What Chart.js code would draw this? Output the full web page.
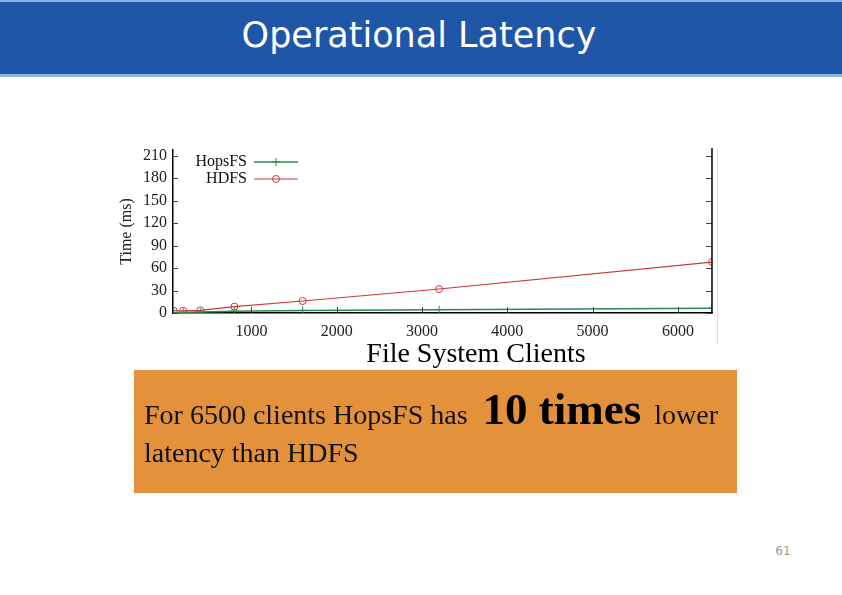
<!DOCTYPE html>
<html>
<head>
<meta charset="utf-8">
<script src="https://cdn.jsdelivr.net/npm/chart.js@4.4.1/dist/chart.umd.min.js"></script>
<style>
  html, body { margin:0; padding:0; background:#fff; }
  body { width:842px; height:595px; position:relative; overflow:hidden; }
  #header { position:absolute; left:0; top:0; width:842px; height:72px; background:#1F56A8;
            border-top:2px solid #8DB3E2; border-bottom:3px solid #8DB3E2; }
  #title { position:absolute; left:0; width:838px; top:12px; text-align:center; color:#fff;
           font-family:"DejaVu Sans", sans-serif; font-size:35px; line-height:42px; }
  #chartWrap { position:absolute; left:110px; top:140px; width:610px; height:205px; }
  #edge { position:absolute; left:717px; top:148px; width:1px; height:197px; background:#ddd; }
  #xtitle { position:absolute; left:276px; width:400px; top:336px; text-align:center;
            font-family:"Liberation Serif", serif; font-size:28px; line-height:34px; color:#000; }
  #box { position:absolute; left:134px; top:370px; width:603px; height:123px; background:#E3913A; }
  #l1 { position:absolute; left:10px; top:15px; white-space:nowrap; font-family:"Liberation Serif", serif;
        font-size:28px; line-height:48px; color:#111; }
  #l1 b { font-size:45px; margin:0 13px 0 15px; color:#000; }
  #l2 { position:absolute; left:10px; top:66px; white-space:nowrap; font-family:"Liberation Serif", serif;
        font-size:28px; line-height:34px; color:#111; }
  #page { position:absolute; left:770px; top:544px; width:26px; text-align:center; font-family:"DejaVu Sans", sans-serif;
          font-size:12px; color:#999; }
</style>
</head>
<body>
<div id="header"><div id="title">Operational Latency</div></div>
<div id="chartWrap"><canvas id="c" width="610" height="205"></canvas></div>
<div id="edge"></div>
<div id="xtitle">File System Clients</div>
<div id="box">
  <div id="l1">For 6500 clients HopsFS has<b>10 times</b>lower</div>
  <div id="l2">latency than HDFS</div>
</div>
<div id="page">61</div>
<script>
// ---- data ----
const clients = [90, 200, 400, 800, 1600, 3200, 6400];
const hopsfsMs = [0.5, 1, 1.5, 2.5, 3.5, 4.5, 6.5];
const hdfsMs   = [3, 3, 3.5, 8.5, 16, 32, 68];
const xTickValues = [1000, 2000, 3000, 4000, 5000, 6000];
const yTickValues = [0, 30, 60, 90, 120, 150, 180, 210];
const seriesNames = ['HopsFS', 'HDFS'];
const yAxisTitle = 'Time (ms)';

const GREEN = '#2A8A52';
const RED = '#C93A3A';
const SERIF = '"Liberation Serif", "Times New Roman", serif';

const toPoints = (xs, ys) => xs.map((x, i) => ({x, y: ys[i]}));

const decor = {
  id: 'decor',
  afterDatasetsDraw(chart) {
    const {ctx, chartArea: a, scales: {x, y}} = chart;
    ctx.save();
    // inward ticks
    ctx.strokeStyle = '#444';
    ctx.lineWidth = 1;
    ctx.beginPath();
    y.ticks.forEach(t => {
      const py = Math.round(y.getPixelForValue(t.value)) + 0.5;
      ctx.moveTo(a.left, py); ctx.lineTo(a.left + 5, py);
      ctx.moveTo(a.right, py); ctx.lineTo(a.right - 6, py);
    });
    x.ticks.forEach(t => {
      const px = Math.round(x.getPixelForValue(t.value)) + 0.5;
      ctx.moveTo(px, a.bottom); ctx.lineTo(px, a.bottom - 6);
    });
    ctx.stroke();
    // right frame line
    ctx.strokeStyle = '#000';
    ctx.lineWidth = 1.5;
    ctx.beginPath();
    ctx.moveTo(a.right, a.top - 2); ctx.lineTo(a.right, a.bottom);
    ctx.stroke();

    // legend (text then sample)
    const ds = chart.data.datasets;
    ctx.font = '16px ' + SERIF;
    ctx.textAlign = 'right';
    ctx.textBaseline = 'middle';
    ds.forEach((d, i) => {
      const ty = a.top + 12 + i * 17;
      const tx = a.left + 74;
      ctx.fillStyle = '#111';
      ctx.fillText(d.label, tx, ty);
      const x0 = tx + 7, x1 = tx + 51, xm = (x0 + x1) / 2;
      ctx.strokeStyle = d.borderColor;
      ctx.lineWidth = d.borderWidth;
      ctx.beginPath(); ctx.moveTo(x0, ty); ctx.lineTo(x1, ty); ctx.stroke();
      ctx.lineWidth = 1;
      ctx.beginPath();
      if (d.pointStyle === 'cross') {
        ctx.moveTo(xm - 4, ty); ctx.lineTo(xm + 4, ty);
        ctx.moveTo(xm, ty - 4); ctx.lineTo(xm, ty + 4);
      } else {
        ctx.arc(xm, ty, 3.5, 0, Math.PI * 2);
      }
      ctx.stroke();
    });
    ctx.restore();
  }
};

new Chart(document.getElementById('c'), {
  type: 'line',
  data: {
    datasets: [
      { label: seriesNames[0], data: toPoints(clients, hopsfsMs), borderColor: GREEN, backgroundColor: GREEN,
        borderWidth: 1.5, pointStyle: 'cross', pointRadius: 4, pointBorderWidth: 1, pointBorderColor: GREEN },
      { label: seriesNames[1], data: toPoints(clients, hdfsMs), borderColor: RED, backgroundColor: 'rgba(0,0,0,0)',
        borderWidth: 1.2, pointStyle: 'circle', pointRadius: 3.5, pointBorderWidth: 1, pointBorderColor: RED }
    ]
  },
  options: {
    responsive: false,
    devicePixelRatio: 1,
    animation: false,
    layout: { padding: { top: 10, right: 8, left: 0, bottom: 0 } },
    plugins: { legend: { display: false }, tooltip: { enabled: false } },
    scales: {
      x: {
        type: 'linear', min: 80, max: 6400,
        afterBuildTicks: s => { s.ticks = xTickValues.map(v => ({value: v})); },
        afterFit: s => { s.height = 32; s.paddingLeft = 0; s.paddingRight = 0; },
        grid: { display: true, drawOnChartArea: false, drawTicks: false },
        border: { display: true, color: '#000', width: 1.5 },
        ticks: { padding: 9, color: '#222', font: { family: SERIF, size: 16 }, maxRotation: 0,
                 callback: v => String(v) }
      },
      y: {
        type: 'linear', min: 0, max: 217.5,
        afterBuildTicks: s => { s.ticks = yTickValues.map(v => ({value: v})); },
        afterFit: s => { s.width = 63; s.paddingTop = 0; s.paddingBottom = 0; },
        grid: { display: true, drawOnChartArea: false, drawTicks: false },
        border: { display: true, color: '#000', width: 1.5 },
        ticks: { padding: 6, color: '#222', font: { family: SERIF, size: 16 }, callback: v => String(v) },
        title: { display: true, text: yAxisTitle, color: '#222', font: { family: SERIF, size: 16 },
                 padding: { top: 7, bottom: 0 } }
      }
    }
  },
  plugins: [decor]
});
</script>
</body>
</html>
